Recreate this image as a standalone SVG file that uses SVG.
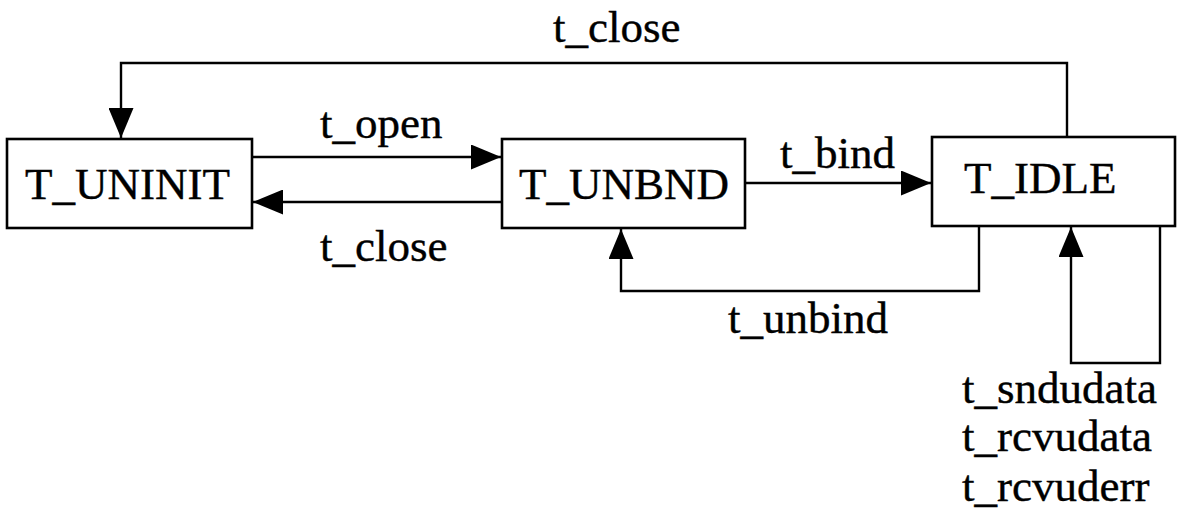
<svg xmlns="http://www.w3.org/2000/svg" width="1177" height="513" viewBox="0 0 1177 513">
  <style>
    .box { fill: #fff; stroke: #000; stroke-width: 2.6; }
    .wire { fill: none; stroke: #000; stroke-width: 2.4; }
    .lbl { font-size: 45px; fill: #000; stroke: #000; stroke-width: 0.4; }
  </style>
  <defs>
    <marker id="arrow" viewBox="0 0 30 25" refX="30" refY="12.5" markerWidth="30" markerHeight="25" markerUnits="userSpaceOnUse" orient="auto">
      <path d="M0,0 L30,12.5 L0,25 Z" fill="#000"/>
    </marker>
  </defs>
  <rect width="1177" height="513" fill="#fff"/>

  <g id="connectors">
    <!-- T_IDLE -> T_UNINIT over the top -->
    <polyline class="wire" points="1067,137 1067,63 121,63 121,138" marker-end="url(#arrow)"/>
    <!-- T_UNINIT -> T_UNBND -->
    <line class="wire" x1="252" y1="157" x2="501" y2="157" marker-end="url(#arrow)"/>
    <!-- T_UNBND -> T_UNINIT -->
    <line class="wire" x1="502" y1="202" x2="253" y2="202" marker-end="url(#arrow)"/>
    <!-- T_UNBND -> T_IDLE -->
    <line class="wire" x1="745" y1="183" x2="931" y2="183" marker-end="url(#arrow)"/>
    <!-- T_IDLE -> T_UNBND -->
    <polyline class="wire" points="979,226 979,291 621,291 621,229" marker-end="url(#arrow)"/>
    <!-- T_IDLE self loop -->
    <polyline class="wire" points="1160,226 1160,363 1071,363 1071,227" marker-end="url(#arrow)"/>
  </g>

  <g font-family="'Liberation Serif', 'Times New Roman', Times, serif">
    <g id="T_UNINIT">
      <rect class="box" x="7" y="139" width="245" height="89"/>
      <text class="lbl" x="25" y="199">T_UNINIT</text>
    </g>
    <g id="T_UNBND">
      <rect class="box" x="502" y="139" width="243" height="89"/>
      <text class="lbl" x="519" y="199">T_UNBND</text>
    </g>
    <g id="T_IDLE">
      <rect class="box" x="932" y="137" width="243" height="89"/>
      <text class="lbl" x="964" y="193">T_IDLE</text>
    </g>

    <g id="labels">
      <text class="lbl" x="553" y="42">t_close</text>
      <text class="lbl" x="320" y="138">t_open</text>
      <text class="lbl" x="320" y="261">t_close</text>
      <text class="lbl" x="780" y="168">t_bind</text>
      <text class="lbl" x="728" y="333">t_unbind</text>
      <text class="lbl" x="962" y="403">t_sndudata</text>
      <text class="lbl" x="962" y="451">t_rcvudata</text>
      <text class="lbl" x="962" y="501">t_rcvuderr</text>
    </g>
  </g>
</svg>
